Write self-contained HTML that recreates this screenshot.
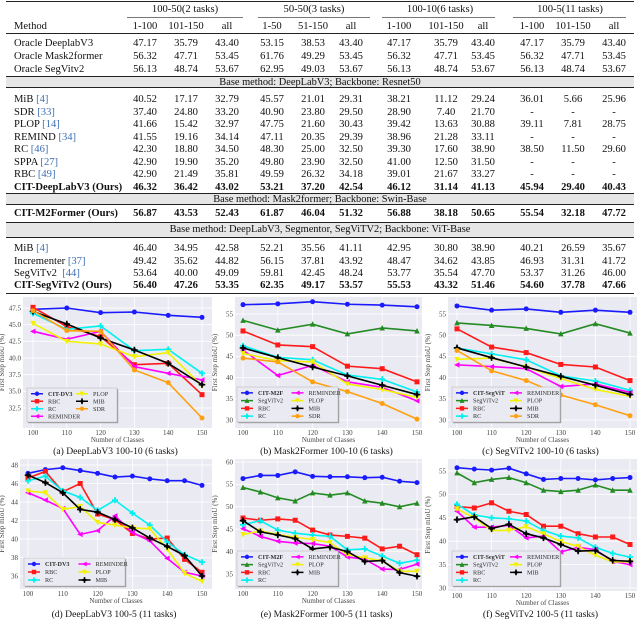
<!DOCTYPE html>
<html><head><meta charset="utf-8">
<style>
body{margin:0;background:#fff;}
#root{position:relative;width:640px;height:622px;overflow:hidden;font-family:"Liberation Serif",serif;color:#111;}
.r{position:absolute;left:0;width:640px;height:13px;line-height:13px;font-size:10.6px;}
.r span{position:absolute;white-space:nowrap;}
.m{left:14px;}
.c{width:50px;margin-left:-25px;text-align:center;}
.b{font-weight:bold;}
.ref{color:#3f6fb5;}
.rule{position:absolute;left:6px;width:628px;background:#222;}
.band{position:absolute;left:6px;width:628px;background:#e6e6e6;font-size:10.4px;text-align:center;line-height:11px;}
.ul{position:absolute;height:1px;background:#777;}
svg{position:absolute;left:0;top:0;}
</style></head><body>
<div id="root">
<div>
<div class="rule" style="top:1px;height:1.2px"></div>
<div class="r" style="top:3px">
<span class="c" style="left:185px;width:100px;margin-left:-50px">100-50(2 tasks)</span>
<span class="c" style="left:314px;width:100px;margin-left:-50px">50-50(3 tasks)</span>
<span class="c" style="left:440px;width:100px;margin-left:-50px">100-10(6 tasks)</span>
<span class="c" style="left:570px;width:100px;margin-left:-50px">100-5(11 tasks)</span>
</div>
<div class="ul" style="top:17px;left:127px;width:116px"></div>
<div class="ul" style="top:17px;left:258px;width:112px"></div>
<div class="ul" style="top:17px;left:382px;width:113px"></div>
<div class="ul" style="top:17px;left:513px;width:113px"></div>
<div class="r" style="top:20px">
<span class="m">Method</span>
<span class="c" style="left:145px">1-100</span><span class="c" style="left:186px">101-150</span><span class="c" style="left:227px">all</span>
<span class="c" style="left:272px">1-50</span><span class="c" style="left:313px">51-150</span><span class="c" style="left:351px">all</span>
<span class="c" style="left:399px">1-100</span><span class="c" style="left:446px">101-150</span><span class="c" style="left:483px">all</span>
<span class="c" style="left:532px">1-100</span><span class="c" style="left:573px">101-150</span><span class="c" style="left:614px">all</span>
</div>
<div class="rule" style="top:33px;height:1px"></div>
<div class="r" style="top:37px"><span class="m">Oracle DeeplabV3</span><span class="c" style="left:145px">47.17</span><span class="c" style="left:186px">35.79</span><span class="c" style="left:227px">43.40</span><span class="c" style="left:272px">53.15</span><span class="c" style="left:313px">38.53</span><span class="c" style="left:351px">43.40</span><span class="c" style="left:399px">47.17</span><span class="c" style="left:446px">35.79</span><span class="c" style="left:483px">43.40</span><span class="c" style="left:532px">47.17</span><span class="c" style="left:573px">35.79</span><span class="c" style="left:614px">43.40</span></div>
<div class="r" style="top:50px"><span class="m">Oracle Mask2former</span><span class="c" style="left:145px">56.32</span><span class="c" style="left:186px">47.71</span><span class="c" style="left:227px">53.45</span><span class="c" style="left:272px">61.76</span><span class="c" style="left:313px">49.29</span><span class="c" style="left:351px">53.45</span><span class="c" style="left:399px">56.32</span><span class="c" style="left:446px">47.71</span><span class="c" style="left:483px">53.45</span><span class="c" style="left:532px">56.32</span><span class="c" style="left:573px">47.71</span><span class="c" style="left:614px">53.45</span></div>
<div class="r" style="top:63px"><span class="m">Oracle SegVitv2</span><span class="c" style="left:145px">56.13</span><span class="c" style="left:186px">48.74</span><span class="c" style="left:227px">53.67</span><span class="c" style="left:272px">62.95</span><span class="c" style="left:313px">49.03</span><span class="c" style="left:351px">53.67</span><span class="c" style="left:399px">56.13</span><span class="c" style="left:446px">48.74</span><span class="c" style="left:483px">53.67</span><span class="c" style="left:532px">56.13</span><span class="c" style="left:573px">48.74</span><span class="c" style="left:614px">53.67</span></div>
<div class="rule" style="top:76px;height:1px"></div>
<div class="band" style="top:77px;height:10px">Base method: DeepLabV3; Backbone: Resnet50</div>
<div class="rule" style="top:87px;height:1px"></div>
<div class="r" style="top:93px"><span class="m">MiB <span class="ref" style="position:static">[4]</span></span><span class="c" style="left:145px">40.52</span><span class="c" style="left:186px">17.17</span><span class="c" style="left:227px">32.79</span><span class="c" style="left:272px">45.57</span><span class="c" style="left:313px">21.01</span><span class="c" style="left:351px">29.31</span><span class="c" style="left:399px">38.21</span><span class="c" style="left:446px">11.12</span><span class="c" style="left:483px">29.24</span><span class="c" style="left:532px">36.01</span><span class="c" style="left:573px">5.66</span><span class="c" style="left:614px">25.96</span></div>
<div class="r" style="top:105.5px"><span class="m">SDR <span class="ref" style="position:static">[33]</span></span><span class="c" style="left:145px">37.40</span><span class="c" style="left:186px">24.80</span><span class="c" style="left:227px">33.20</span><span class="c" style="left:272px">40.90</span><span class="c" style="left:313px">23.80</span><span class="c" style="left:351px">29.50</span><span class="c" style="left:399px">28.90</span><span class="c" style="left:446px">7.40</span><span class="c" style="left:483px">21.70</span><span class="c" style="left:532px">-</span><span class="c" style="left:573px">-</span><span class="c" style="left:614px">-</span></div>
<div class="r" style="top:118px"><span class="m">PLOP <span class="ref" style="position:static">[14]</span></span><span class="c" style="left:145px">41.66</span><span class="c" style="left:186px">15.42</span><span class="c" style="left:227px">32.97</span><span class="c" style="left:272px">47.75</span><span class="c" style="left:313px">21.60</span><span class="c" style="left:351px">30.43</span><span class="c" style="left:399px">39.42</span><span class="c" style="left:446px">13.63</span><span class="c" style="left:483px">30.88</span><span class="c" style="left:532px">39.11</span><span class="c" style="left:573px">7.81</span><span class="c" style="left:614px">28.75</span></div>
<div class="r" style="top:130.5px"><span class="m">REMIND <span class="ref" style="position:static">[34]</span></span><span class="c" style="left:145px">41.55</span><span class="c" style="left:186px">19.16</span><span class="c" style="left:227px">34.14</span><span class="c" style="left:272px">47.11</span><span class="c" style="left:313px">20.35</span><span class="c" style="left:351px">29.39</span><span class="c" style="left:399px">38.96</span><span class="c" style="left:446px">21.28</span><span class="c" style="left:483px">33.11</span><span class="c" style="left:532px">-</span><span class="c" style="left:573px">-</span><span class="c" style="left:614px">-</span></div>
<div class="r" style="top:143px"><span class="m">RC <span class="ref" style="position:static">[46]</span></span><span class="c" style="left:145px">42.30</span><span class="c" style="left:186px">18.80</span><span class="c" style="left:227px">34.50</span><span class="c" style="left:272px">48.30</span><span class="c" style="left:313px">25.00</span><span class="c" style="left:351px">32.50</span><span class="c" style="left:399px">39.30</span><span class="c" style="left:446px">17.60</span><span class="c" style="left:483px">38.90</span><span class="c" style="left:532px">38.50</span><span class="c" style="left:573px">11.50</span><span class="c" style="left:614px">29.60</span></div>
<div class="r" style="top:155.5px"><span class="m">SPPA <span class="ref" style="position:static">[27]</span></span><span class="c" style="left:145px">42.90</span><span class="c" style="left:186px">19.90</span><span class="c" style="left:227px">35.20</span><span class="c" style="left:272px">49.80</span><span class="c" style="left:313px">23.90</span><span class="c" style="left:351px">32.50</span><span class="c" style="left:399px">41.00</span><span class="c" style="left:446px">12.50</span><span class="c" style="left:483px">31.50</span><span class="c" style="left:532px">-</span><span class="c" style="left:573px">-</span><span class="c" style="left:614px">-</span></div>
<div class="r" style="top:168px"><span class="m">RBC <span class="ref" style="position:static">[49]</span></span><span class="c" style="left:145px">42.90</span><span class="c" style="left:186px">21.49</span><span class="c" style="left:227px">35.81</span><span class="c" style="left:272px">49.59</span><span class="c" style="left:313px">26.32</span><span class="c" style="left:351px">34.18</span><span class="c" style="left:399px">39.01</span><span class="c" style="left:446px">21.67</span><span class="c" style="left:483px">33.27</span><span class="c" style="left:532px">-</span><span class="c" style="left:573px">-</span><span class="c" style="left:614px">-</span></div>
<div class="r b" style="top:180.5px"><span class="m">CIT-DeepLabV3 (Ours)</span><span class="c" style="left:145px">46.32</span><span class="c" style="left:186px">36.42</span><span class="c" style="left:227px">43.02</span><span class="c" style="left:272px">53.21</span><span class="c" style="left:313px">37.20</span><span class="c" style="left:351px">42.54</span><span class="c" style="left:399px">46.12</span><span class="c" style="left:446px">31.14</span><span class="c" style="left:483px">41.13</span><span class="c" style="left:532px">45.94</span><span class="c" style="left:573px">29.40</span><span class="c" style="left:614px">40.43</span></div>
<div class="rule" style="top:193px;height:1px"></div>
<div class="band" style="top:194px;height:10px">Base method: Mask2former; Backbone: Swin-Base</div>
<div class="rule" style="top:204px;height:1px"></div>
<div class="r b" style="top:207px"><span class="m">CIT-M2Former (Ours)</span><span class="c" style="left:145px">56.87</span><span class="c" style="left:186px">43.53</span><span class="c" style="left:227px">52.43</span><span class="c" style="left:272px">61.87</span><span class="c" style="left:313px">46.04</span><span class="c" style="left:351px">51.32</span><span class="c" style="left:399px">56.88</span><span class="c" style="left:446px">38.18</span><span class="c" style="left:483px">50.65</span><span class="c" style="left:532px">55.54</span><span class="c" style="left:573px">32.18</span><span class="c" style="left:614px">47.72</span></div>
<div class="rule" style="top:222px;height:1px"></div>
<div class="band" style="top:223px;height:14px;line-height:14px">Base method: DeepLabV3, Segmentor, SegViTV2; Backbone: ViT-Base</div>
<div class="rule" style="top:237px;height:1px"></div>
<div class="r" style="top:242px"><span class="m">MiB <span class="ref" style="position:static">[4]</span></span><span class="c" style="left:145px">46.40</span><span class="c" style="left:186px">34.95</span><span class="c" style="left:227px">42.58</span><span class="c" style="left:272px">52.21</span><span class="c" style="left:313px">35.56</span><span class="c" style="left:351px">41.11</span><span class="c" style="left:399px">42.95</span><span class="c" style="left:446px">30.80</span><span class="c" style="left:483px">38.90</span><span class="c" style="left:532px">40.21</span><span class="c" style="left:573px">26.59</span><span class="c" style="left:614px">35.67</span></div>
<div class="r" style="top:254.5px"><span class="m">Incrementer <span class="ref" style="position:static">[37]</span></span><span class="c" style="left:145px">49.42</span><span class="c" style="left:186px">35.62</span><span class="c" style="left:227px">44.82</span><span class="c" style="left:272px">56.15</span><span class="c" style="left:313px">37.81</span><span class="c" style="left:351px">43.92</span><span class="c" style="left:399px">48.47</span><span class="c" style="left:446px">34.62</span><span class="c" style="left:483px">43.85</span><span class="c" style="left:532px">46.93</span><span class="c" style="left:573px">31.31</span><span class="c" style="left:614px">41.72</span></div>
<div class="r" style="top:267px"><span class="m">SegViTv2 &nbsp;<span class="ref" style="position:static">[44]</span></span><span class="c" style="left:145px">53.64</span><span class="c" style="left:186px">40.00</span><span class="c" style="left:227px">49.09</span><span class="c" style="left:272px">59.81</span><span class="c" style="left:313px">42.45</span><span class="c" style="left:351px">48.24</span><span class="c" style="left:399px">53.77</span><span class="c" style="left:446px">35.54</span><span class="c" style="left:483px">47.70</span><span class="c" style="left:532px">53.37</span><span class="c" style="left:573px">31.26</span><span class="c" style="left:614px">46.00</span></div>
<div class="r b" style="top:279px"><span class="m">CIT-SegViTv2 (Ours)</span><span class="c" style="left:145px">56.40</span><span class="c" style="left:186px">47.26</span><span class="c" style="left:227px">53.35</span><span class="c" style="left:272px">62.35</span><span class="c" style="left:313px">49.17</span><span class="c" style="left:351px">53.57</span><span class="c" style="left:399px">55.53</span><span class="c" style="left:446px">43.32</span><span class="c" style="left:483px">51.46</span><span class="c" style="left:532px">54.60</span><span class="c" style="left:573px">37.78</span><span class="c" style="left:614px">47.66</span></div>
<div class="rule" style="top:293px;height:1.2px"></div>
</div>
<svg id="charts" width="640" height="622"></svg>
</div>
<script>
const X10=[100,110,120,130,140,150];
const X5=[100,105,110,115,120,125,130,135,140,145,150];
// (a) DeepLabV3 100-10
const aCIT=[47.3,47.5,46.8,46.9,46.4,46.1];
const aRBC=[47.6,44.7,43.2,39.0,39.2,34.5];
const aRC=[46.7,44.3,44.8,41.1,41.3,37.7];
const aREM=[44.0,42.8,44.0,38.7,37.7,36.7];
const aPLOP=[45.2,42.5,42.1,40.2,40.8,35.8];
const aMIB=[47.0,45.1,43.0,41.2,39.2,36.0];
const aSDR=[47.1,44.1,44.0,38.2,36.3,31.0];
const aTicks=[32.5,35.0,37.5,40.0,42.5,45.0,47.5];
// (b) Mask2Former 100-10
const bCIT=[57.2,57.4,57.9,57.3,57.1,56.7];
const bSEG=[53.5,51.2,52.6,50.3,51.7,51.0];
const bRBC=[51.0,47.7,47.3,42.7,42.1,39.0];
const bRC=[47.5,44.8,44.2,40.6,39.6,36.6];
const bREM=[46.5,40.5,42.9,39.0,37.7,34.5];
const bPLOP=[45.7,44.0,43.7,38.5,37.2,35.3];
const bMIB=[47.0,44.7,42.5,40.4,38.2,36.0];
const bSDR=[44.6,43.7,39.0,36.7,33.9,30.2];
const bTicks=[30,35,40,45,50,55];
// (c) SegViTv2 100-10
const cCIT=[56.9,55.9,56.2,55.4,55.9,55.4];
const cSEG=[52.9,52.3,51.6,50.3,52.7,50.5];
const cRBC=[51.5,47.2,45.9,43.1,42.5,39.3];
const cRC=[47.0,45.6,44.2,40.4,39.2,37.0];
const cREM=[43.0,42.6,42.1,37.9,38.5,36.5];
const cPLOP=[44.3,44.6,42.5,39.8,37.2,35.6];
const cMIB=[47.0,44.7,42.5,40.3,38.2,36.0];
const cSDR=[46.4,41.6,39.3,35.9,33.6,31.0];
const cTicks=[30,35,40,45,50,55];
// (d) DeepLabV3 100-5
const dCIT=[47.1,47.5,47.7,47.4,47.1,46.7,46.8,46.5,46.3,46.3,45.8];
const dRBC=[46.6,47.3,45.1,46.0,42.7,42.1,40.6,40.0,40.1,37.8,36.4];
const dRC=[46.3,46.8,45.2,44.5,43.1,44.2,42.8,41.5,39.7,38.3,37.5];
const dREM=[45.0,44.2,43.3,40.5,40.9,42.5,40.7,39.8,37.9,36.4,36.0];
const dPLOP=[45.2,45.0,43.2,43.5,41.8,41.5,41.2,41.1,38.9,36.3,35.4];
const dMIB=[46.9,46.1,45.0,43.2,42.9,42.1,41.2,40.1,39.2,38.2,36.0];
const dTicks=[36,38,40,42,44,46,48];
// (e) Mask2Former 100-5
const eCIT=[56.3,57.0,57.0,57.8,56.8,56.7,56.7,56.5,56.6,55.7,55.4];
const eSEG=[54.3,53.3,52.0,51.3,53.1,52.6,53.1,51.3,50.8,50.0,50.8];
const eRBC=[47.5,47.0,47.3,47.0,44.8,43.7,43.4,43.0,40.6,41.2,39.3];
const eRC=[46.0,46.9,44.8,44.1,43.7,43.4,40.4,40.6,39.0,37.4,38.1];
const eREM=[45.1,43.4,42.3,41.9,41.8,41.2,38.8,38.3,36.1,36.0,37.2];
const ePLOP=[43.8,44.6,43.8,43.2,42.7,42.0,39.3,38.6,37.9,35.6,35.6];
const eMIB=[46.9,44.4,43.7,42.9,40.6,41.0,40.0,37.8,38.0,35.3,34.5];
const eTicks=[35,40,45,50,55,60];
// (f) SegViTv2 100-5
const fCIT=[55.7,55.4,55.2,55.6,54.4,53.2,53.4,53.4,53.1,53.4,53.6];
const fSEG=[54.6,52.5,53.2,53.6,52.5,50.9,50.6,50.9,52.0,50.9,50.9];
const fRBC=[47.4,47.1,48.2,46.4,45.7,43.2,43.2,41.6,40.9,40.9,39.3];
const fRC=[47.9,45.6,45.0,44.8,44.3,42.3,41.1,40.7,38.7,37.4,36.6];
const fREM=[46.4,43.0,43.0,43.4,40.7,41.1,37.7,38.7,38.2,35.7,35.0];
const fPLOP=[46.9,45.0,42.3,42.3,43.1,41.6,39.9,38.9,37.0,35.6,35.6];
const fMIB=[44.6,45.2,42.7,43.6,41.6,40.7,39.3,37.9,38.0,35.9,35.7];
const fTicks=[30,35,40,45,50,55];
const xTicks=[100,110,120,130,140,150];

const COL={CIT:'#1a1aff',SEG:'#228b22',RBC:'#ff1a1a',RC:'#00f0f0',REM:'#ff00ff',PLOP:'#f2f200',MIB:'#000',SDR:'#ffa010'};
const MK={CIT:'circle',SEG:'tri',RBC:'square',RC:'plus',REM:'tril',PLOP:'trid',MIB:'diamond',SDR:'hex'};
const NS='http://www.w3.org/2000/svg';
const svg=document.getElementById('charts');
function mk(tag,attrs,parent){const e=document.createElementNS(NS,tag);for(const k in attrs)e.setAttribute(k,attrs[k]);(parent||svg).appendChild(e);return e;}
function marker(g,type,x,y,c,s){
  let e;
  if(type==='circle'||type==='hex'){e=mk('circle',{cx:x,cy:y,r:s,fill:c},g);}
  else if(type==='square'){e=mk('rect',{x:x-s,y:y-s,width:2*s,height:2*s,fill:c},g);}
  else if(type==='tri'){e=mk('polygon',{points:`${x},${y-s*1.2} ${x-s*1.1},${y+s} ${x+s*1.1},${y+s}`,fill:c},g);}
  else if(type==='trid'){e=mk('polygon',{points:`${x},${y+s*1.2} ${x-s*1.1},${y-s} ${x+s*1.1},${y-s}`,fill:c},g);}
  else if(type==='tril'){e=mk('polygon',{points:`${x-s*1.2},${y} ${x+s},${y-s*1.1} ${x+s},${y+s*1.1}`,fill:c},g);}
  else if(type==='plus'){e=mk('path',{d:`M${x-s*1.2},${y}H${x+s*1.2}M${x},${y-s*1.2}V${y+s*1.2}`,stroke:c,'stroke-width':1.8,fill:'none'},g);}
  else {e=mk('path',{d:`M${x-s*1.3},${y}H${x+s*1.3}M${x},${y-s*1.3}V${y+s*1.3}`,stroke:c,'stroke-width':1.6},g);mk('polygon',{points:`${x},${y-s} ${x+s},${y} ${x},${y+s} ${x-s},${y}`,fill:c},g);}
  return e;
}
function chart(cfg){
  const [L,T,R,B]=cfg.box;
  const [xv1,xp1,xv2,xp2]=cfg.xA, [yv1,yp1,yv2,yp2]=cfg.yA;
  const sx=v=>xp1+(v-xv1)*(xp2-xp1)/(xv2-xv1);
  const sy=v=>yp1+(v-yv1)*(yp2-yp1)/(yv2-yv1);
  const g=mk('g',{});
  
  
  mk('rect',{x:L,y:T,width:R-L,height:B-T,fill:'#eaeaf2'},g);
  cfg.yt.forEach(v=>{
    const y=sy(v);
    mk('line',{x1:L,x2:R,y1:y,y2:y,stroke:'#fff','stroke-width':0.8},g);
    const t=mk('text',{x:L-2,y:y+2.3,'font-size':7,'text-anchor':'end',fill:'#444','font-family':'Liberation Serif, serif'},g);
    
    
    t.textContent=cfg.yt[0]%1?v.toFixed(1):String(v);
  });
  xTicks.forEach(v=>{
    const x=sx(v);
    mk('line',{x1:x,x2:x,y1:T,y2:B,stroke:'#fff','stroke-width':0.8},g);
    const t=mk('text',{x:x,y:B+7,'font-size':7,'text-anchor':'middle',fill:'#444','font-family':'Liberation Serif, serif'},g);
    
    
    t.textContent=v;
  });
  const xt=mk('text',{x:(L+R)/2,y:B+14,'font-size':7,'text-anchor':'middle',fill:'#444','font-family':'Liberation Serif, serif'},g);
  
  
  xt.textContent='Number of Classes';
  const yx=cfg.ytx, yy=(T+B)/2;
  const yt=mk('text',{x:yx,y:yy,'font-size':7,'text-anchor':'middle',fill:'#444',transform:`rotate(-90 ${yx} ${yy})`,'font-family':'Liberation Serif, serif'},g);
  
  
  yt.textContent='First Step mIoU (%)';
  cfg.series.forEach(s=>{
    const pts=s.d.map((v,i)=>sx(cfg.xs[i])+','+sy(v)).join(' ');
    const ln=mk('polyline',{points:pts,fill:'none',stroke:COL[s.k],'stroke-width':1.6},g);
    
    
    s.d.forEach((v,i)=>{const m=marker(g,MK[s.k],sx(cfg.xs[i]),sy(v),COL[s.k],2.5);
      
      });
  });
  const [lx,ly,lw,lh]=cfg.leg;
  const lg=mk('g',{},g);
  
  
  mk('rect',{x:lx+1.2,y:ly+1.2,width:lw,height:lh,fill:'#999'},lg);
  mk('rect',{x:lx,y:ly,width:lw,height:lh,fill:'#eaeaf2',stroke:'#bbb','stroke-width':0.6},lg);
  const rows=cfg.rows, rh=(lh-4)/rows;
  cfg.series.forEach((s,i)=>{
    const col=Math.floor(i/rows), row=i%rows;
    const ex=lx+4+col*lw/2, ey=ly+2+rh*(row+0.5);
    mk('line',{x1:ex,x2:ex+12,y1:ey,y2:ey,stroke:COL[s.k],'stroke-width':1.5},lg);
    marker(lg,MK[s.k],ex+6,ey,COL[s.k],2.2);
    const t=mk('text',{x:ex+17,y:ey+2.1,'font-size':6.2,fill:'#333','font-family':'Liberation Serif, serif','font-weight':i===0?'bold':'normal'},lg);
    
    
    t.textContent=s.n;
  });
  const cap=mk('text',{x:(L+R)/2-2,y:cfg.capY,'font-size':9.6,'text-anchor':'middle',fill:'#111','font-family':'Liberation Serif, serif'},g);
  
  
  cap.textContent=cfg.cap;
}
chart({name:'chart-a',box:[23,297,212,428],xA:[100,33,150,202],yA:[47.5,308,32.5,408],yt:aTicks,xs:X10,ytx:4,
 series:[{n:'CIT-DV3',k:'CIT',d:aCIT},{n:'RBC',k:'RBC',d:aRBC},{n:'RC',k:'RC',d:aRC},{n:'REMINDER',k:'REM',d:aREM},{n:'PLOP',k:'PLOP',d:aPLOP},{n:'MIB',k:'MIB',d:aMIB},{n:'SDR',k:'SDR',d:aSDR}],
 leg:[27,388,90,34],rows:4,cap:'(a) DeepLabV3 100-10 (6 tasks)',capY:454});
chart({name:'chart-b',box:[235,297,422,428],xA:[100,243,150,417],yA:[55,314,30,420],yt:bTicks,xs:X10,ytx:217,
 series:[{n:'CIT-M2F',k:'CIT',d:bCIT},{n:'SegViTv2',k:'SEG',d:bSEG},{n:'RBC',k:'RBC',d:bRBC},{n:'RC',k:'RC',d:bRC},{n:'REMINDER',k:'REM',d:bREM},{n:'PLOP',k:'PLOP',d:bPLOP},{n:'MIB',k:'MIB',d:bMIB},{n:'SDR',k:'SDR',d:bSDR}],
 leg:[237,387,101,35],rows:4,cap:'(b) Mask2Former 100-10 (6 tasks)',capY:454});
chart({name:'chart-c',box:[448,297,637,428],xA:[100,457,150,630],yA:[55,314,30,420],yt:cTicks,xs:X10,ytx:430,
 series:[{n:'CIT-SegViT',k:'CIT',d:cCIT},{n:'SegViTv2',k:'SEG',d:cSEG},{n:'RBC',k:'RBC',d:cRBC},{n:'RC',k:'RC',d:cRC},{n:'REMINDER',k:'REM',d:cREM},{n:'PLOP',k:'PLOP',d:cPLOP},{n:'MIB',k:'MIB',d:cMIB},{n:'SDR',k:'SDR',d:cSDR}],
 leg:[452,387,108,35],rows:4,cap:'(c) SegViTv2 100-10 (6 tasks)',capY:454});
chart({name:'chart-d',box:[20,459,212,589],xA:[100,28,150,202],yA:[48,465,36,576],yt:dTicks,xs:X5,ytx:4,
 series:[{n:'CIT-DV3',k:'CIT',d:dCIT},{n:'RBC',k:'RBC',d:dRBC},{n:'RC',k:'RC',d:dRC},{n:'REMINDER',k:'REM',d:dREM},{n:'PLOP',k:'PLOP',d:dPLOP},{n:'MIB',k:'MIB',d:dMIB}],
 leg:[24,558,101,28],rows:3,cap:'(d) DeepLabV3 100-5 (11 tasks)',capY:617});
chart({name:'chart-e',box:[235,459,422,589],xA:[100,243,150,417],yA:[60,462,35,574],yt:eTicks,xs:X5,ytx:217,
 series:[{n:'CIT-M2F',k:'CIT',d:eCIT},{n:'SegViTv2',k:'SEG',d:eSEG},{n:'RBC',k:'RBC',d:eRBC},{n:'RC',k:'RC',d:eRC},{n:'REMINDER',k:'REM',d:eREM},{n:'PLOP',k:'PLOP',d:ePLOP},{n:'MIB',k:'MIB',d:eMIB}],
 leg:[237,551,101,35],rows:4,cap:'(e) Mask2Former 100-5 (11 tasks)',capY:617});
chart({name:'chart-f',box:[448,459,637,591],xA:[100,457,150,630],yA:[55,471,30,588],yt:fTicks,xs:X5,ytx:430,
 series:[{n:'CIT-SegViT',k:'CIT',d:fCIT},{n:'SegViTv2',k:'SEG',d:fSEG},{n:'RBC',k:'RBC',d:fRBC},{n:'RC',k:'RC',d:fRC},{n:'REMINDER',k:'REM',d:fREM},{n:'PLOP',k:'PLOP',d:fPLOP},{n:'MIB',k:'MIB',d:fMIB}],
 leg:[452,551,108,35],rows:4,cap:'(f) SegViTv2 100-5 (11 tasks)',capY:617});
</script>
</body></html>
